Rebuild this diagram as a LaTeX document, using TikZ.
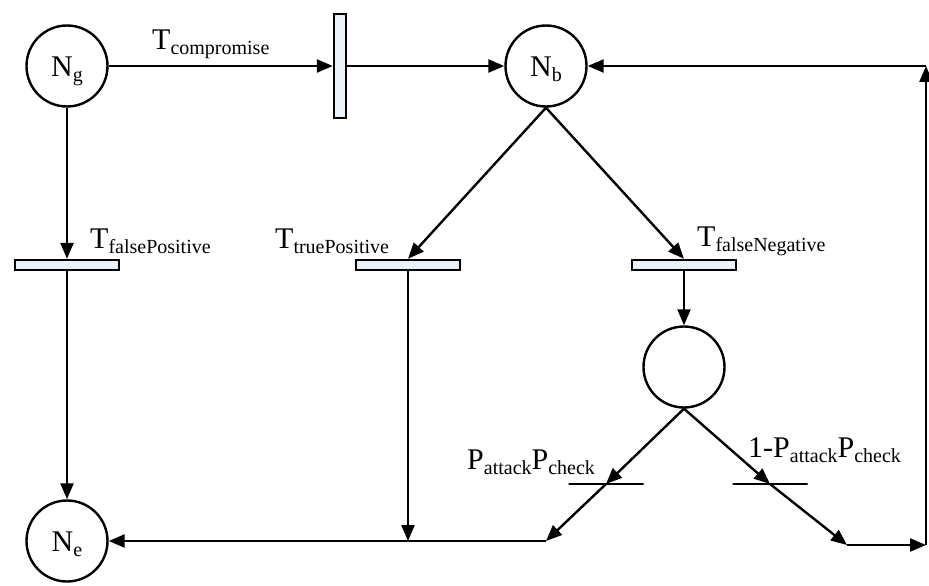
\documentclass[tikz,border=0pt]{standalone}
\usepackage{fontspec}
\setmainfont{Liberation Serif}
\usetikzlibrary{arrows.meta}
\definecolor{tfill}{RGB}{233,241,250}
\newcommand{\lo}[1]{\raisebox{-5pt}{\fontsize{20}{24}\selectfont #1}}
\begin{document}
\begin{tikzpicture}[x=1pt,y=-1pt,
  place/.style={circle,draw,line width=2.4pt,minimum size=81pt,inner sep=0pt,
    font=\fontsize{30}{36}\selectfont,text height=21pt,text depth=0pt},
  trans/.style={draw,line width=2.4pt,fill=tfill,inner sep=0pt},
  htrans/.style={trans,minimum width=104pt,minimum height=10pt},
  vtrans/.style={trans,minimum width=12pt,minimum height=104pt},
  pbar/.style={draw,line width=2.4pt,minimum width=75pt,minimum height=0pt,inner sep=0pt},
  lbl/.style={inner sep=0pt,anchor=base west,font=\fontsize{30}{36}\selectfont},
  arr/.style={line width=2.4pt,-{Triangle[length=16pt,width=13pt]}}]
\useasboundingbox (0,0) rectangle (929,586);
% places
\node[place] (Ng) at (67,66) {N\lo{g}};
\node[place] (Nb) at (546,66) {N\lo{b}};
\node[place] (Ne) at (67,541) {N\lo{e}};
\node[place] (P) at (684,367) {};
% transitions
\node[vtrans] (Tc) at (340,66) {};
\node[htrans] (Tfp) at (67,265) {};
\node[htrans] (Ttp) at (408,265) {};
\node[htrans] (Tfn) at (684,265) {};
\node[pbar] (Ta) at (606,484) {};
\node[pbar] (Tb) at (770,484) {};
% junctions
\coordinate (jL) at (546,541);
\coordinate (jTp) at (408,541);
\coordinate (jR) at (847,545);
\coordinate (jC) at (926,545);
\coordinate (jT) at (926,66);
% arcs
\draw[arr] (Ng) -- (Tc);
\draw[arr] (Tc) -- (Nb);
\draw[arr] (Ng) -- (Tfp);
\draw[arr] (Tfp) -- (Ne);
\draw[arr] (Nb.south) -- (Ttp.north);
\draw[arr] (Nb.south) -- (Tfn.north);
\draw[arr] (Ttp) -- (jTp);
\draw[arr] (Tfn) -- (P);
\draw[arr] (P.south) -- (Ta.center);
\draw[arr] (P.south) -- (Tb.center);
\draw[arr] (Ta.center) -- (jL);
\draw[arr] (Tb.center) -- (jR);
\draw[arr] (jL) -- (Ne);
\draw[arr] (jR) -- (jC);
\draw[arr] (jC) -- (jT);
\draw[arr] (jT) -- (Nb);
% labels
\node[lbl] (lc) at (152,50) {T\lo{compromise}};
\node[lbl] (lfp) at (90,248) {T\lo{falsePositive}};
\node[lbl] (ltp) at (275,248) {T\lo{truePositive}};
\node[lbl] (lfn) at (697,246) {T\lo{falseNegative}};
\node[lbl] (la) at (467,469) {P\lo{attack}P\lo{check}};
\node[lbl] (lb) at (748,457) {1-P\lo{attack}P\lo{check}};
\end{tikzpicture}
\end{document}
